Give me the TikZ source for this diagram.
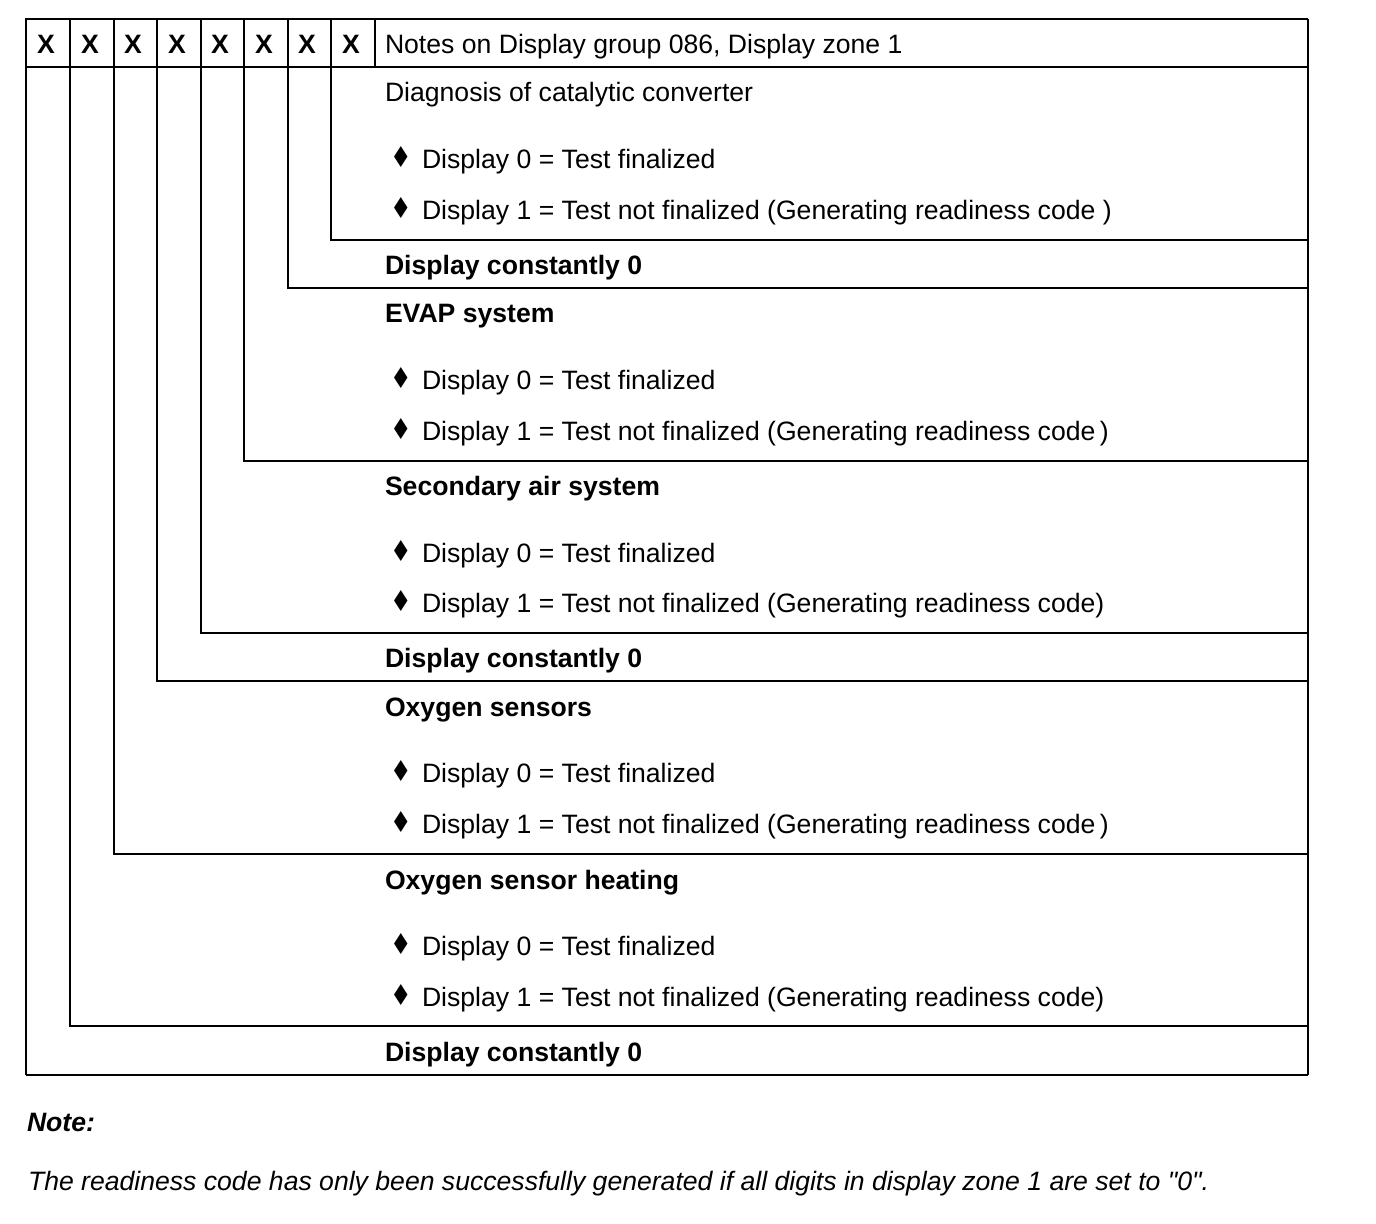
\documentclass[tikz,border=0pt]{standalone}
\usepackage{fontspec}
\setmainfont{Liberation Sans}
\newfontfamily\symfont{DejaVu Sans}
\usepackage{tikz}

\begin{document}
\begin{tikzpicture}[x=0.5pt,y=-0.5pt,line width=1pt,font=\fontsize{13.3}{15}\selectfont,
  cell/.style={inner sep=0pt,text height=9.5pt,text depth=0pt,anchor=west},
  headx/.style={inner sep=0pt,text height=9.5pt,text depth=0pt,font=\fontsize{13.3}{15}\selectfont\bfseries},
  topic/.style={cell,font=\fontsize{13.3}{15}\selectfont\bfseries},
  dia/.style={inner sep=0pt,yscale=1.2,font=\symfont\fontsize{12}{14}\selectfont}]
\useasboundingbox (0,0) rectangle (1376,1224);
% frame
\draw (26,1075) -- (26,19) -- (1308,19);
\draw (26,1075) -- (1308,1075);
\draw[line width=0.7pt] (1308,19) -- (1308,1075);
\draw (26,67) -- (1308,67);
% bit columns
\draw (70,19) |- (1308,1026);
\draw (114,19) |- (1308,854);
\draw (157,19) |- (1308,681);
\draw (201,19) |- (1308,633);
\draw (244,19) |- (1308,461);
\draw (288,19) |- (1308,288);
\draw (331,19) |- (1308,240);
\draw (375,19) -- (375,67);
% header
\node[headx] (x1) at (46,44) {X};
\node[headx] (x2) at (90,44) {X};
\node[headx] (x3) at (133,44) {X};
\node[headx] (x4) at (177,44) {X};
\node[headx] (x5) at (220,44) {X};
\node[headx] (x6) at (264,44) {X};
\node[headx] (x7) at (307,44) {X};
\node[headx] (x8) at (351,44) {X};
\node[cell] (hdr) at (384,44) {Notes on Display group 086, Display zone 1};
% catalytic converter
\node[cell] (cat) at (384,92) {Diagnosis of catalytic converter};
\node[dia] (catb0) at (401,157) {♦};
\node[cell] (cat0) at (421,159) {Display 0 = Test finalized};
\node[dia] (catb1) at (401,208) {♦};
\node[cell] (cat1) at (421,210) {Display 1 = Test not finalized (Generating readiness code )};
\node[topic] (dc1) at (384,265) {Display constantly 0};
% evap
\node[topic] (evap) at (384,313) {EVAP system};
\node[dia] (evapb0) at (401,378) {♦};
\node[cell] (evap0) at (421,380) {Display 0 = Test finalized};
\node[dia] (evapb1) at (401,429) {♦};
\node[cell] (evap1) at (421,431) {Display 1 = Test not finalized (Generating readiness code\,)};
% secondary air
\node[topic] (sec) at (384,486) {Secondary air system};
\node[dia] (secb0) at (401,551) {♦};
\node[cell] (sec0) at (421,553) {Display 0 = Test finalized};
\node[dia] (secb1) at (401,601) {♦};
\node[cell] (sec1) at (421,603) {Display 1 = Test not finalized (Generating readiness code)};
\node[topic] (dc2) at (384,658) {Display constantly 0};
% oxygen sensors
\node[topic] (oxy) at (384,707) {Oxygen sensors};
\node[dia] (oxyb0) at (401,771) {♦};
\node[cell] (oxy0) at (421,773) {Display 0 = Test finalized};
\node[dia] (oxyb1) at (401,822) {♦};
\node[cell] (oxy1) at (421,824) {Display 1 = Test not finalized (Generating readiness code\,)};
% oxygen sensor heating
\node[topic] (heat) at (384,880) {Oxygen sensor heating};
\node[dia] (heatb0) at (401,944) {♦};
\node[cell] (heat0) at (421,946) {Display 0 = Test finalized};
\node[dia] (heatb1) at (401,995) {♦};
\node[cell] (heat1) at (421,997) {Display 1 = Test not finalized (Generating readiness code)};
\node[topic] (dc3) at (384,1052) {Display constantly 0};
% note
\node[cell,font=\fontsize{13.3}{15}\selectfont\bfseries\itshape] (note) at (26,1122) {Note:};
\node[cell,font=\fontsize{13.3}{15}\selectfont\itshape\addfontfeatures{Ligatures=TeXOff}] (notetext) at (27,1181) {The readiness code has only been successfully generated if all digits in display zone 1 are set to "0".};
\end{tikzpicture}
\end{document}
